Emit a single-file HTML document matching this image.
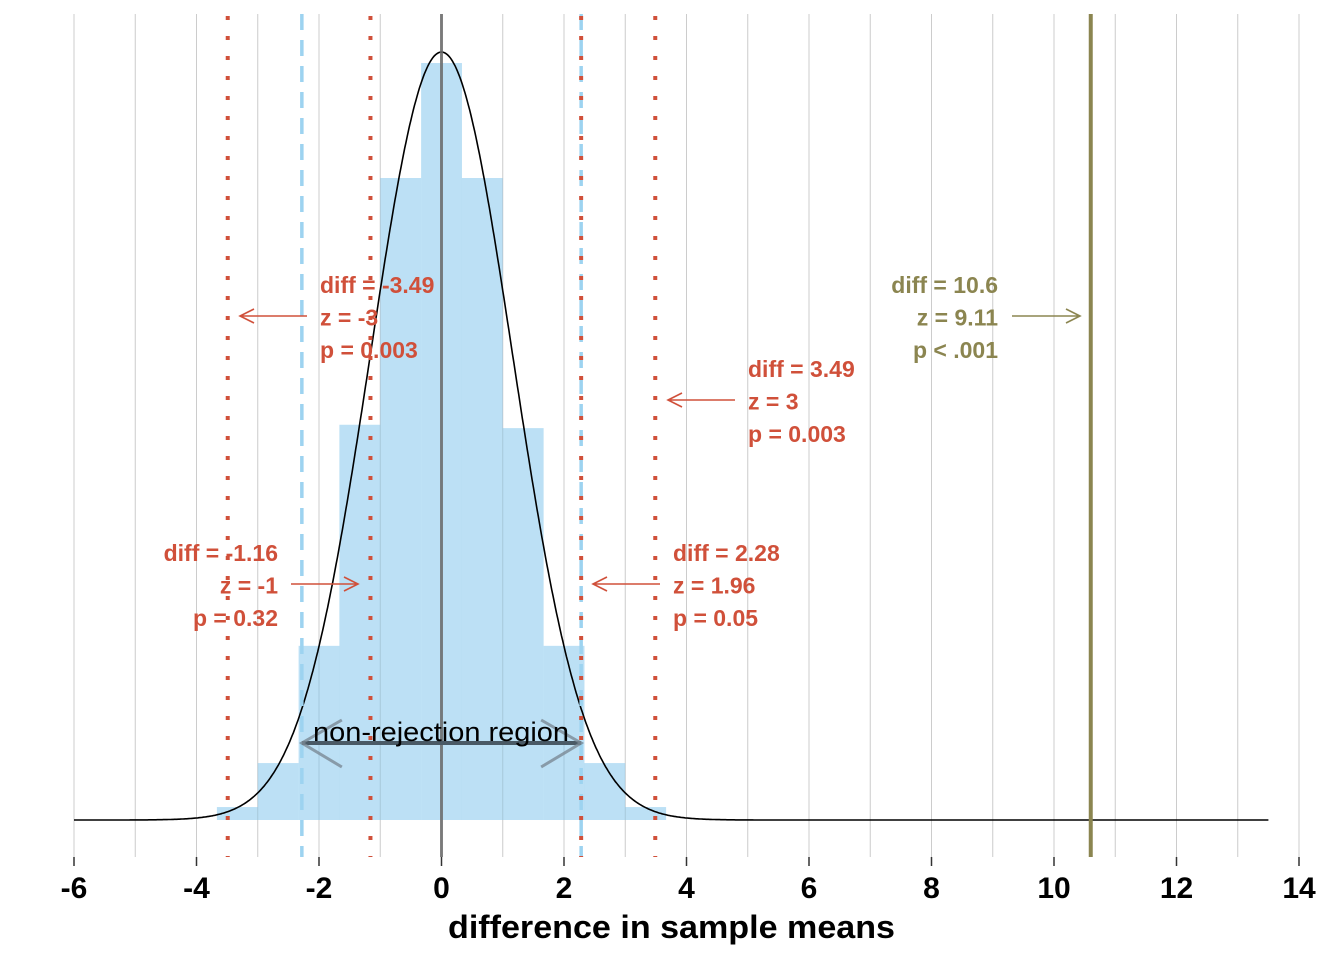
<!DOCTYPE html>
<html><head><meta charset="utf-8"><style>
body{margin:0;background:#fff}
svg text{font-family:"Liberation Sans",sans-serif}
.lab{font-weight:bold;font-size:23px}
</style></head><body>
<svg id="c" width="1344" height="960" xmlns="http://www.w3.org/2000/svg"></svg>
<script>
const ticks=[-6,-4,-2,0,2,4,6,8,10,12,14];
const binLefts=[-3.667,-3,-2.333,-1.667,-1,-0.333,0.333,1,1.667,2.333,3];
const binDensity=[0.0058,0.0255,0.078,0.177,0.2875,0.339,0.2875,0.1755,0.078,0.0255,0.0058];
const binWidth=0.667;
const sd=1.16;
const redLines=[-3.49,-1.16,2.28,3.49];
const blueLines=[-2.28,2.28];
const observed=10.6;
const NS="http://www.w3.org/2000/svg";
const svg=document.getElementById('c');
const X=v=>441.5+v*61.25;
const Y=d=>820-d*2233;
function mk(t,a,p){const e=document.createElementNS(NS,t);for(const k in a)e.setAttribute(k,a[k]);(p||svg).appendChild(e);return e;}
for(let v=-6;v<=14;v++){const g=mk('line',{x1:X(v),x2:X(v),y1:14,y2:857,stroke:'#cccccc','stroke-width':1});

}
binLefts.forEach((b,i)=>{const r=mk('rect',{x:X(b),y:Y(binDensity[i]),width:X(b+binWidth)-X(b),height:820-Y(binDensity[i]),fill:'#7ec3ec','fill-opacity':0.52});

});
let d='';for(let v=-6;v<=13.5;v+=0.02){const y=Math.exp(-v*v/(2*sd*sd))/(sd*Math.sqrt(2*Math.PI));d+=(d?'L':'M')+X(v).toFixed(1)+','+Y(y).toFixed(1);}
const cv=mk('path',{d:d,fill:'none',stroke:'#000','stroke-width':1.6});


const z=mk('line',{x1:X(0),x2:X(0),y1:14,y2:857,stroke:'#6b6b6b','stroke-width':3,'stroke-opacity':0.85});


blueLines.forEach(v=>{const l=mk('line',{x1:X(v),x2:X(v),y1:14,y2:857,stroke:'#9dd3f0','stroke-width':3.5,'stroke-dasharray':'16,10'});

});
redLines.forEach(v=>{const l=mk('line',{x1:X(v),x2:X(v),y1:16,y2:857,stroke:'#d0503a','stroke-width':4,'stroke-dasharray':'4,16'});

});
const ob=mk('line',{x1:X(observed),x2:X(observed),y1:14,y2:857,stroke:'#8b8550','stroke-width':4});


const nr=mk('line',{x1:X(-2.28),x2:X(2.28),y1:743,y2:743,stroke:'#4a5a66','stroke-width':4});


[[X(-2.28),1],[X(2.28),-1]].forEach(([x,s])=>{const h=mk('path',{d:`M${x+s*40},720 L${x},743 L${x+s*40},767`,fill:'none',stroke:'#7a8a96','stroke-width':3,'stroke-opacity':0.8});

});
const nt=mk('text',{x:313,y:741,'font-size':27,fill:'#000',textLength:256,lengthAdjust:'spacingAndGlyphs'});nt.textContent='non-rejection region';


function ann(lines,x,y0,anchor,col,ax1,ax2,ay,name){
 lines.forEach((t,i)=>{const e=mk('text',{x:x,y:y0+i*32.5,'text-anchor':anchor,fill:col,class:'lab'});e.textContent=t;
 
 });
 const s=ax2>ax1?-1:1;
 const a=mk('path',{d:`M${ax1},${ay} L${ax2},${ay} M${ax2+s*14},${ay-7} L${ax2},${ay} L${ax2+s*14},${ay+7}`,fill:'none',stroke:col,'stroke-width':1.6});
 
 
}
const R='#d0503a',O='#8b8550';
ann(['diff = -3.49','z = -3','p = 0.003'],320,293,'start',R,307,240,316,'z-minus-3');
ann(['diff = 3.49','z = 3','p = 0.003'],748,377,'start',R,735,668,400,'z-plus-3');
ann(['diff = -1.16','z = -1','p = 0.32'],278,561,'end',R,291,358,584,'z-minus-1');
ann(['diff = 2.28','z = 1.96','p = 0.05'],673,561,'start',R,660,593,584,'z-1-96');
ann(['diff = 10.6','z = 9.11','p < .001'],998,293,'end',O,1012,1080,316,'observed');
ticks.forEach(t=>{const l=mk('line',{x1:X(t),x2:X(t),y1:857,y2:866,stroke:'#333','stroke-width':1.5});


const e=mk('text',{x:X(t),y:898,'text-anchor':'middle','font-size':30,'font-weight':'bold',fill:'#000'});e.textContent=t;

});
const at=mk('text',{x:448,y:938,'font-size':32,'font-weight':'bold',fill:'#000',textLength:447,lengthAdjust:'spacingAndGlyphs'});at.textContent='difference in sample means';


</script></body></html>
